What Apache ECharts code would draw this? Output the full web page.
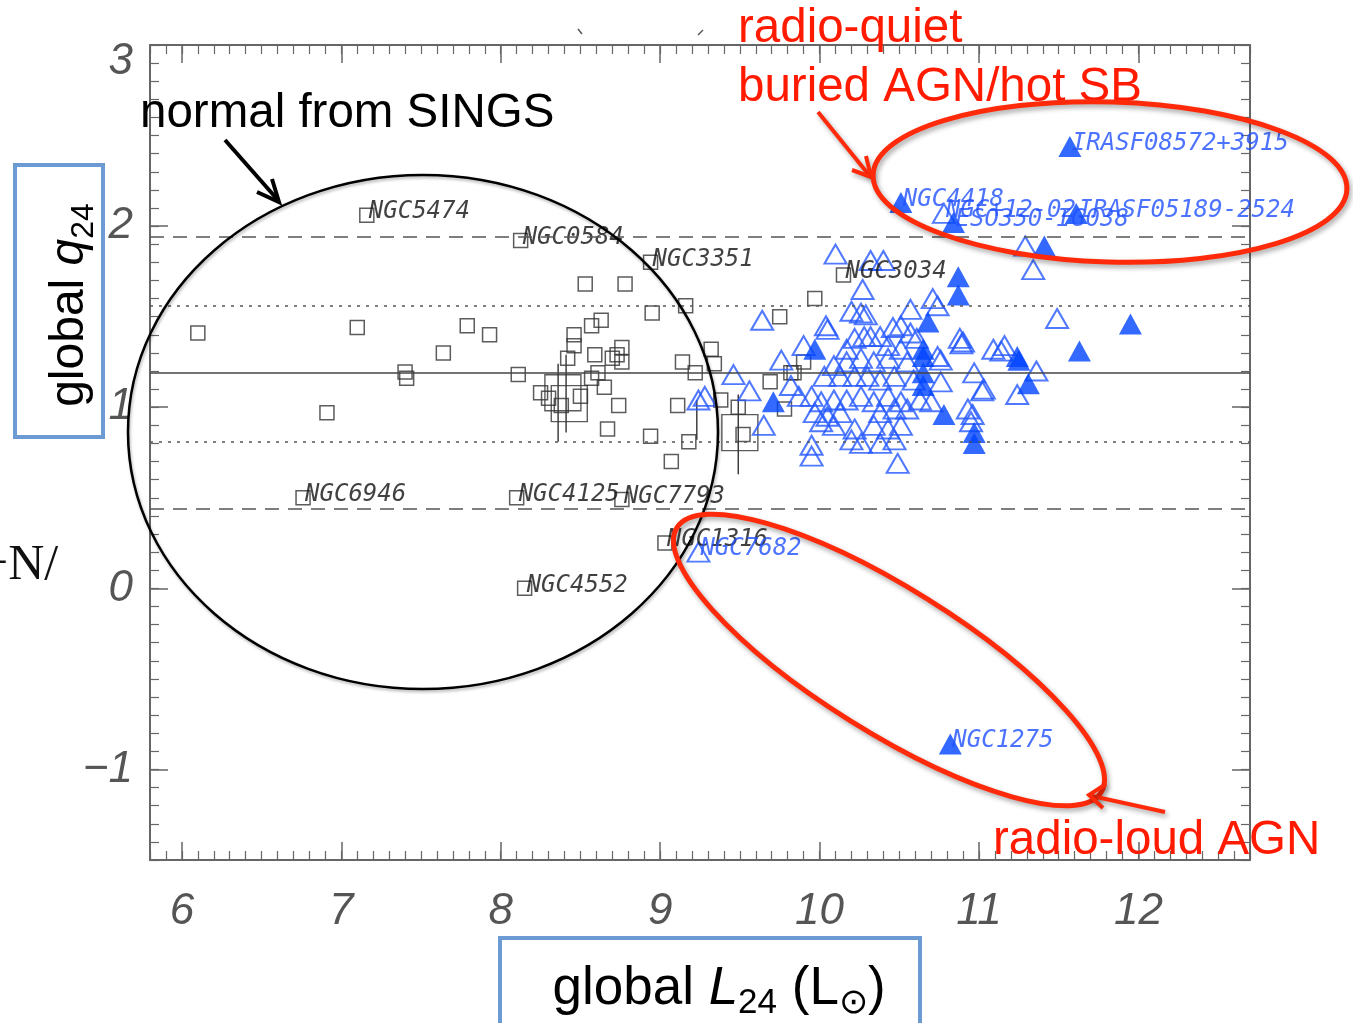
<!DOCTYPE html>
<html>
<head>
<meta charset="utf-8">
<title>global q24 vs global L24</title>
<script src="https://cdn.jsdelivr.net/npm/echarts@6.0.0/dist/echarts.min.js"></script>
<style>
  html, body { margin: 0; padding: 0; background: #fff; }
  #chart { width: 1353px; height: 1023px; }
</style>
</head>
<body>
<div id="chart"></div>
<script>
// axis tick labels
const xTicks = [6, 7, 8, 9, 10, 11, 12];
const yTicks = [-1, 0, 1, 2, 3];

// horizontal reference lines (median, dotted and dashed bands)
const qMedian = [1.19];
const qDotted = [1.565, 0.815];
const qDashed = [1.94, 0.44];

// normal galaxies from SINGS (open squares)
const singsPts = [
  [6.10, 1.41], [7.10, 1.44], [7.79, 1.45], [7.93, 1.40], [7.64, 1.30], [7.40, 1.195], [7.41, 1.16],
  [8.11, 1.18], [6.91, 0.97], [8.25, 1.08], [8.53, 1.68], [8.78, 1.68], [8.95, 1.52], [9.16, 1.56],
  [8.63, 1.48], [8.57, 1.45], [8.46, 1.40], [8.46, 1.34], [8.76, 1.33], [8.59, 1.29], [8.70, 1.27],
  [8.73, 1.29], [8.76, 1.25], [8.42, 1.27], [8.61, 1.19], [8.57, 1.16], [8.65, 1.11], [8.50, 1.06],
  [8.38, 1.01], [8.74, 1.01], [8.67, 0.88], [8.94, 0.84], [9.11, 1.01], [9.14, 1.25], [9.22, 1.19],
  [9.32, 1.32], [9.34, 1.24], [9.18, 0.81], [9.07, 0.70], [9.38, 1.04], [9.49, 1.00], [9.52, 0.85],
  [9.75, 1.50], [9.97, 1.60], [9.69, 1.14], [9.78, 0.99], [9.82, 1.19], [9.90, 1.25], [9.84, 1.19],
  [8.30, 1.05]
];
const singsNamed = [
  ['NGC5474', 7.16, 2.06], ['NGC0584', 8.125, 1.92], ['NGC3351', 8.94, 1.80], ['NGC3034', 10.15, 1.73],
  ['NGC6946', 6.76, 0.50], ['NGC4125', 8.10, 0.50], ['NGC7793', 8.76, 0.49], ['NGC1316', 9.03, 0.25],
  ['NGC4552', 8.15, 0.00]
];
const singsBig = [[8.39, 1.08], [8.43, 1.02], [9.50, 0.86]];
// vertical error bars: [x, low, high]
const singsErr = [[8.36, 0.81, 1.24], [8.41, 0.86, 1.29], [9.49, 0.63, 1.07], [9.23, 0.82, 1.04]];

// open triangles
const openTri = [
  [9.24, 1.04], [9.28, 1.06], [9.46, 1.18], [9.56, 1.09], [9.65, 0.90], [9.64, 1.48], [9.76, 1.26],
  [10.10, 1.845], [10.32, 1.81], [10.40, 1.81], [10.27, 1.65], [10.71, 1.60], [10.20, 1.53], [10.26, 1.52],
  [10.29, 1.51], [10.57, 1.54], [10.74, 1.56], [10.04, 1.45], [10.05, 1.43], [10.46, 1.44], [10.51, 1.45],
  [10.22, 1.38], [10.28, 1.39], [10.32, 1.39], [10.38, 1.39], [10.57, 1.41], [10.61, 1.38], [9.90, 1.34],
  [10.17, 1.32], [10.43, 1.34], [10.51, 1.32], [10.74, 1.28], [10.88, 1.38], [10.90, 1.36], [11.09, 1.32],
  [10.09, 1.23], [10.17, 1.25], [10.26, 1.27], [10.34, 1.25], [10.43, 1.27], [10.55, 1.25], [10.76, 1.26],
  [10.03, 1.17], [10.13, 1.17], [10.22, 1.17], [10.30, 1.17], [10.38, 1.15], [10.47, 1.17], [10.59, 1.15],
  [10.76, 1.14], [10.97, 1.19], [11.03, 1.10], [9.82, 1.12], [9.87, 1.06], [9.95, 1.06], [10.01, 1.03],
  [10.09, 1.04], [10.17, 1.04], [10.26, 1.06], [10.34, 1.03], [10.43, 1.06], [10.51, 1.03], [10.63, 1.04],
  [10.70, 1.03], [9.97, 0.97], [10.05, 0.95], [10.13, 0.97], [10.38, 0.97], [10.47, 0.99], [10.55, 0.99],
  [10.01, 0.92], [10.09, 0.90], [10.22, 0.88], [10.34, 0.90], [10.43, 0.88], [10.51, 0.90], [10.20, 0.82],
  [10.26, 0.80], [10.38, 0.80], [10.47, 0.82], [9.95, 0.79], [9.95, 0.73], [10.49, 0.69], [10.93, 0.99],
  [11.34, 1.76], [11.49, 1.49], [10.89, 1.35], [11.16, 1.34], [11.14, 1.31], [11.36, 1.20], [11.24, 1.07],
  [11.02, 1.09], [10.96, 0.96], [10.95, 0.92], [11.29, 1.89]
];
const openTriNamed = [['NGC7682', 9.24, 0.20], ['NGC+12-02', 10.78, 2.07]];

// filled triangles
const fillTri = [
  [10.87, 1.72], [10.87, 1.62], [9.97, 1.32], [10.68, 1.47], [10.65, 1.32], [10.65, 1.28], [10.65, 1.12],
  [9.71, 1.03], [10.78, 0.96], [10.97, 0.86], [10.97, 0.80], [10.65, 1.19], [11.95, 1.46], [11.63, 1.31],
  [11.24, 1.28], [11.25, 1.26], [11.31, 1.13], [11.41, 1.89]
];
const fillTriNamed = [
  ['IRASF08572+3915', 11.57, 2.44], ['NGC4418', 10.51, 2.13], ['ESO350-IG038', 10.84, 2.02],
  ['IRASF05189-2524', 11.61, 2.07], ['NGC1275', 10.82, -0.86]
];

const chart = echarts.init(document.getElementById('chart'));

const axisColor = '#666';
const tickFont = { fontSize: 44, fontStyle: 'italic', fontFamily: '"Liberation Sans", Arial, sans-serif', color: '#555' };
const nameLabel = {
  show: true, formatter: '{b}', position: ['50%', '50%'], align: 'left', verticalAlign: 'middle',
  offset: [2, -3], fontFamily: '"DejaVu Sans Mono", monospace', fontStyle: 'italic', fontSize: 24
};
const toNamed = arr => arr.map(d => ({ name: d[0], value: [d[1], d[2]] }));

function xAx(pos, major) {
  return {
    type: 'value', min: 5.8, max: 12.7, position: pos,
    interval: major ? undefined : 0.1,
    axisLine: { show: major, onZero: false, lineStyle: { color: axisColor, width: 2 } },
    splitLine: { show: false },
    axisTick: major
      ? { show: true, inside: true, length: 18, customValues: xTicks, lineStyle: { color: axisColor, width: 1.5 } }
      : { show: true, inside: true, length: 9, lineStyle: { color: axisColor, width: 1.2 } },
    axisLabel: (major && pos === 'bottom')
      ? Object.assign({ show: true, customValues: xTicks, margin: 30 }, tickFont)
      : { show: false }
  };
}
function yAx(pos, major) {
  return {
    type: 'value', min: -1.5, max: 3.0, position: pos,
    interval: major ? undefined : 0.1,
    axisLine: { show: major, onZero: false, lineStyle: { color: axisColor, width: 2 } },
    splitLine: { show: false },
    axisTick: major
      ? { show: true, inside: true, length: 18, customValues: yTicks, lineStyle: { color: axisColor, width: 1.5 } }
      : { show: true, inside: true, length: 9, lineStyle: { color: axisColor, width: 1.2 } },
    axisLabel: (major && pos === 'left')
      ? Object.assign({
          show: true, customValues: yTicks, margin: 17,
          formatter: v => v === 3 ? '{t|3}' : (v < 0 ? '\u2212' + Math.abs(v) : String(v)),
          rich: { t: Object.assign({ padding: [34, 0, 0, 0] }, tickFont) }
        }, tickFont)
      : { show: false }
  };
}

const red = '#ff2a0a';
const redShadow = { shadowBlur: 5, shadowColor: 'rgba(0,0,0,0.35)', shadowOffsetX: 2, shadowOffsetY: 3 };
const bigFont = '"Liberation Sans", Arial, sans-serif';

chart.setOption({
  animation: false,
  backgroundColor: '#fff',
  grid: { left: 150, right: 103, top: 45, bottom: 163 },
  xAxis: [xAx('bottom', true), xAx('bottom', false), xAx('top', true), xAx('top', false)],
  yAxis: [yAx('left', true), yAx('left', false), yAx('right', true), yAx('right', false)],
  series: [
    {
      type: 'scatter', name: 'SINGS', data: singsPts, symbol: 'rect', symbolSize: 14, silent: true,
      itemStyle: { color: 'rgba(0,0,0,0)', borderColor: '#333', borderWidth: 1.5 },
      markLine: {
        silent: true, symbol: 'none', label: { show: false },
        data: [].concat(
          qMedian.map(v => ({ yAxis: v, lineStyle: { type: 'solid', color: '#444', width: 1.5 } })),
          qDotted.map(v => ({ yAxis: v, lineStyle: { type: [3, 6], color: '#555', width: 1.5 } })),
          qDashed.map(v => ({ yAxis: v, lineStyle: { type: [14, 9], color: '#555', width: 1.5 } }))
        )
      }
    },
    {
      type: 'scatter', name: 'SINGS large', data: singsBig, symbol: 'rect', symbolSize: 36, silent: true,
      itemStyle: { color: 'rgba(0,0,0,0)', borderColor: '#333', borderWidth: 1.4 }
    },
    {
      type: 'custom', name: 'errors', data: singsErr, silent: true, encode: { x: 0, y: [1, 2] },
      renderItem: (params, api) => {
        const hi = api.coord([api.value(0), api.value(2)]);
        const lo = api.coord([api.value(0), api.value(1)]);
        return { type: 'line', shape: { x1: hi[0], y1: hi[1], x2: lo[0], y2: lo[1] }, style: { stroke: '#333', lineWidth: 1.4 } };
      }
    },
    {
      type: 'scatter', name: 'SINGS named', data: toNamed(singsNamed), symbol: 'rect', symbolSize: 14, silent: true,
      itemStyle: { color: 'rgba(0,0,0,0)', borderColor: '#333', borderWidth: 1.5 },
      label: Object.assign({ color: '#111' }, nameLabel)
    },
    {
      type: 'scatter', name: 'open', data: openTri, symbol: 'triangle', symbolSize: [22, 19], silent: true,
      itemStyle: { color: 'rgba(0,0,0,0)', borderColor: '#2457ff', borderWidth: 2 }
    },
    {
      type: 'scatter', name: 'open named', data: toNamed(openTriNamed), symbol: 'triangle', symbolSize: [22, 19], silent: true,
      itemStyle: { color: 'rgba(0,0,0,0)', borderColor: '#2457ff', borderWidth: 2 },
      label: Object.assign({ color: '#1f50ff' }, nameLabel)
    },
    {
      type: 'scatter', name: 'filled', data: fillTri, symbol: 'triangle', symbolSize: [23, 21], silent: true,
      itemStyle: { color: '#0044ff' }
    },
    {
      type: 'scatter', name: 'filled named', data: toNamed(fillTriNamed), symbol: 'triangle', symbolSize: [23, 21], silent: true,
      itemStyle: { color: '#0044ff' },
      label: Object.assign({ color: '#1f50ff' }, nameLabel)
    }
  ],
  graphic: {
    elements: [
      // axis title boxes
      { type: 'rect', z: 10, shape: { x: 15, y: 165, width: 88, height: 272 }, style: { fill: '#fff', stroke: '#6b9bd2', lineWidth: 4 } },
      { type: 'rect', z: 10, shape: { x: 500, y: 938, width: 420, height: 100 }, style: { fill: '#fff', stroke: '#6b9bd2', lineWidth: 4 } },
      {
        type: 'text', z: 11, x: 70, y: 305, rotation: Math.PI / 2,
        style: {
          text: '{n|global }{i|q}{s|24}', align: 'center', verticalAlign: 'middle',
          rich: {
            n: { fontSize: 48, fontFamily: bigFont, color: '#000', lineHeight: 60 },
            i: { fontSize: 48, fontFamily: bigFont, fontStyle: 'italic', color: '#000', lineHeight: 60 },
            s: { fontSize: 32, fontFamily: bigFont, color: '#000', lineHeight: 34, verticalAlign: 'bottom' }
          }
        }
      },
      {
        type: 'text', z: 11, x: 719, y: 989,
        style: {
          text: '{n|global }{i|L}{s|24}{n| (L}{s|\u2299}{n|)}', align: 'center', verticalAlign: 'middle',
          rich: {
            n: { fontSize: 53, fontFamily: bigFont, color: '#000', lineHeight: 64 },
            i: { fontSize: 53, fontFamily: bigFont, fontStyle: 'italic', color: '#000', lineHeight: 64 },
            s: { fontSize: 35, fontFamily: bigFont, color: '#000', lineHeight: 36, verticalAlign: 'bottom' }
          }
        }
      },
      // SINGS annotation
      { type: 'text', z: 11, x: 140, y: 114, style: { text: 'normal from SINGS', font: '47.5px ' + bigFont, fill: '#000', align: 'left', verticalAlign: 'middle' } },
      { type: 'polyline', z: 11, shape: { points: [[225, 140], [277, 199]] }, style: { stroke: '#000', lineWidth: 4, fill: 'none' } },
      { type: 'polyline', z: 11, shape: { points: [[257, 192], [279, 202], [272, 179]] }, style: { stroke: '#000', lineWidth: 4, fill: 'none' } },
      {
        type: 'ellipse', z: 11, shape: { cx: 423, cy: 432, rx: 295, ry: 257 },
        style: { fill: 'none', stroke: '#000', lineWidth: 2.5, shadowBlur: 3, shadowColor: 'rgba(0,0,0,0.3)', shadowOffsetX: 1, shadowOffsetY: 2 }
      },
      // radio-quiet annotation
      { type: 'text', z: 11, x: 738, y: 29, style: { text: 'radio-quiet', font: '47.5px ' + bigFont, fill: '#ff1a00', align: 'left', verticalAlign: 'middle' } },
      { type: 'text', z: 11, x: 738, y: 88, style: { text: 'buried AGN/hot SB', font: '47.5px ' + bigFont, fill: '#ff1a00', align: 'left', verticalAlign: 'middle' } },
      { type: 'polyline', z: 11, shape: { points: [[818, 112], [869, 175]] }, style: Object.assign({ stroke: red, lineWidth: 4, fill: 'none' }, redShadow) },
      { type: 'polyline', z: 11, shape: { points: [[852, 170], [871, 177], [866, 156]] }, style: Object.assign({ stroke: red, lineWidth: 4, fill: 'none' }, redShadow) },
      {
        type: 'ellipse', z: 11, x: 1110, y: 182, rotation: -0.03, shape: { cx: 0, cy: 0, rx: 237, ry: 80 },
        style: Object.assign({ fill: 'none', stroke: red, lineWidth: 5 }, redShadow)
      },
      // radio-loud annotation
      {
        type: 'ellipse', z: 11, x: 889, y: 660, rotation: -0.558, shape: { cx: 0, cy: 0, rx: 250, ry: 72 },
        style: Object.assign({ fill: 'none', stroke: red, lineWidth: 5 }, redShadow)
      },
      { type: 'polyline', z: 11, shape: { points: [[1165, 812], [1092, 796]] }, style: Object.assign({ stroke: red, lineWidth: 4, fill: 'none' }, redShadow) },
      { type: 'polyline', z: 11, shape: { points: [[1106, 784], [1089, 795], [1103, 808]] }, style: Object.assign({ stroke: red, lineWidth: 4, fill: 'none' }, redShadow) },
      { type: 'text', z: 11, x: 993, y: 841, style: { text: 'radio-loud AGN', font: '47.5px ' + bigFont, fill: '#ff1a00', align: 'left', verticalAlign: 'middle' } },
      // stray fragments from the slide
      { type: 'text', z: 11, x: -20, y: 566, style: { text: '+N/', font: '50px "Liberation Serif", serif', fill: '#111', align: 'left', verticalAlign: 'middle' } },
      { type: 'polyline', z: 11, shape: { points: [[578, 29], [582, 34]] }, style: { stroke: '#555', lineWidth: 1.5, fill: 'none' } },
      { type: 'polyline', z: 11, shape: { points: [[698, 35], [703, 30]] }, style: { stroke: '#555', lineWidth: 1.5, fill: 'none' } }
    ]
  }
});
</script>
</body>
</html>
